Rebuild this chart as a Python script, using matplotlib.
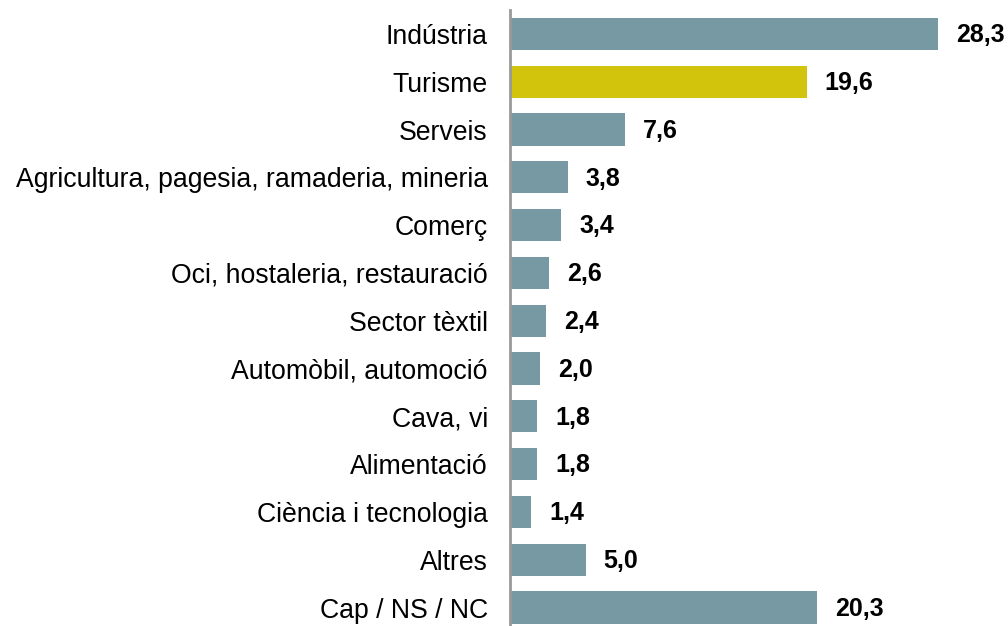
import matplotlib.pyplot as plt

plt.rcParams['font.family'] = ['Liberation Sans', 'DejaVu Sans']

categories = ['Indústria', 'Turisme', 'Serveis',
              'Agricultura, pagesia, ramaderia, mineria', 'Comerç',
              'Oci, hostaleria, restauració', 'Sector tèxtil',
              'Automòbil, automoció', 'Cava, vi', 'Alimentació',
              'Ciència i tecnologia', 'Altres', 'Cap / NS / NC']
values = [28.3, 19.6, 7.6, 3.8, 3.4, 2.6, 2.4, 2.0, 1.8, 1.8, 1.4, 5.0, 20.3]
highlight = 'Turisme'

base_color = '#7699A3'
hl_color = '#D2C40C'

fig = plt.figure(figsize=(10.08, 6.26), dpi=100)
ax = fig.add_axes([510 / 1008, -5.4 / 626, 498 / 1008, 621.4 / 626])

pos = list(range(len(categories)))
colors = [hl_color if c == highlight else base_color for c in categories]
ax.barh(pos, values, height=0.67, color=colors, zorder=2)

# value labels to the right of each bar
for p, v in zip(pos, values):
    ax.annotate(f'{v:.1f}'.replace('.', ','), xy=(v, p), xytext=(13, -1),
                textcoords='offset points', va='center', ha='left',
                fontsize=18, fontweight='bold', color='black')

ax.set_yticks(pos)
ax.set_yticklabels(categories, fontsize=19.2)
ax.tick_params(axis='y', length=0, pad=16)
ax.set_ylim(len(categories) - 0.5, -0.5)
ax.set_xlim(0, 32.9)
ax.set_xticks([])

for s in ['top', 'right', 'bottom']:
    ax.spines[s].set_visible(False)
ax.spines['left'].set_color('#999999')
ax.spines['left'].set_linewidth(2)
ax.spines['left'].set_zorder(3)

fig.savefig('out.png', dpi=100)
